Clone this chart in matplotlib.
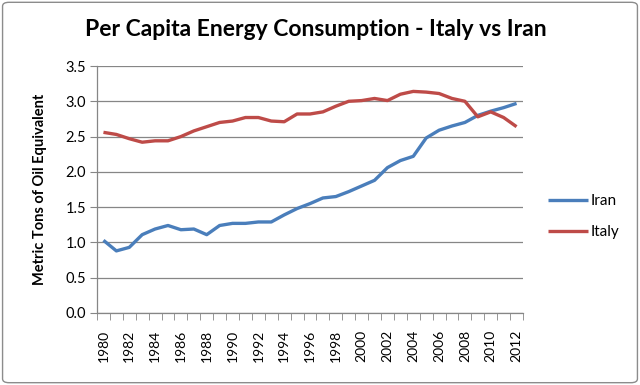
import numpy as np
import matplotlib
matplotlib.use("Agg")
import matplotlib.pyplot as plt
from matplotlib.patches import FancyBboxPatch

plt.rcParams["font.family"] = ["Lato", "DejaVu Sans"]

years = list(range(1980, 2013))
iran = [1.03, 0.88, 0.93, 1.11, 1.19, 1.24, 1.18, 1.19, 1.11, 1.24,
        1.27, 1.27, 1.29, 1.29, 1.39, 1.48, 1.55, 1.63, 1.65, 1.72,
        1.80, 1.88, 2.06, 2.16, 2.22, 2.48, 2.59, 2.65, 2.70, 2.80,
        2.86, 2.91, 2.97]
italy = [2.56, 2.53, 2.47, 2.42, 2.44, 2.44, 2.50, 2.58, 2.64, 2.70,
         2.72, 2.77, 2.77, 2.72, 2.71, 2.82, 2.82, 2.85, 2.93, 3.00,
         3.01, 3.04, 3.01, 3.10, 3.14, 3.13, 3.11, 3.04, 3.00, 2.78,
         2.85, 2.77, 2.64]
tick_labels = [str(y) for y in years[::2]]

fig = plt.figure(figsize=(6.4, 3.85), dpi=100)
ax = fig.add_axes([97 / 640, 1 - 313 / 385, 426 / 640, 247 / 385])

x = np.arange(len(years))
ax.plot(x, iran, color="#4A7EBB", lw=2.4, label="Iran", solid_capstyle="butt")
ax.plot(x, italy, color="#BE4B48", lw=2.4, label="Italy", solid_capstyle="butt")

ax.set_xlim(-0.5, len(years) - 0.5)
ax.set_ylim(0, 3.5)
ax.set_yticks(np.arange(0, 3.51, 0.5))
ax.set_yticklabels([f"{v:.1f}" for v in np.arange(0, 3.51, 0.5)], fontsize=10.5)
ax.set_xticks(x[::2])
ax.set_xticklabels(tick_labels, rotation=90, fontsize=10)
ax.set_xticks(np.arange(-0.5, len(years), 1), minor=True)
ax.tick_params(axis="x", which="major", length=0, pad=12)
ax.tick_params(axis="x", which="minor", length=5, color="#868686", direction="out")
ax.tick_params(axis="y", length=5, color="#868686", direction="out", pad=3)

ax.grid(axis="y", color="#868686", lw=0.9)
ax.set_axisbelow(True)
for s in ["top", "right"]:
    ax.spines[s].set_visible(False)
for s in ["left", "bottom"]:
    ax.spines[s].set_color("#868686")
    ax.spines[s].set_linewidth(0.9)

ax.set_ylabel("Metric Tons of Oil Equivalent", fontsize=10.5, fontweight="bold", labelpad=13)
fig.text(0.494, 1 - 30 / 385, "Per Capita Energy Consumption - Italy vs Iran",
         ha="center", va="center", fontsize=16.5, fontweight="bold")

ax.legend(loc="center left", bbox_to_anchor=(1.026, 0.39), frameon=False,
          fontsize=11, handlelength=2.6, handletextpad=0.2, labelspacing=1.1)

border = FancyBboxPatch((0.004, 0.006), 0.992, 0.988, boxstyle="round,pad=0,rounding_size=0.01",
                        transform=fig.transFigure, fill=False, ec="#8c8c8c", lw=1.0)
fig.patches.append(border)

fig.savefig("out.png", dpi=100)
